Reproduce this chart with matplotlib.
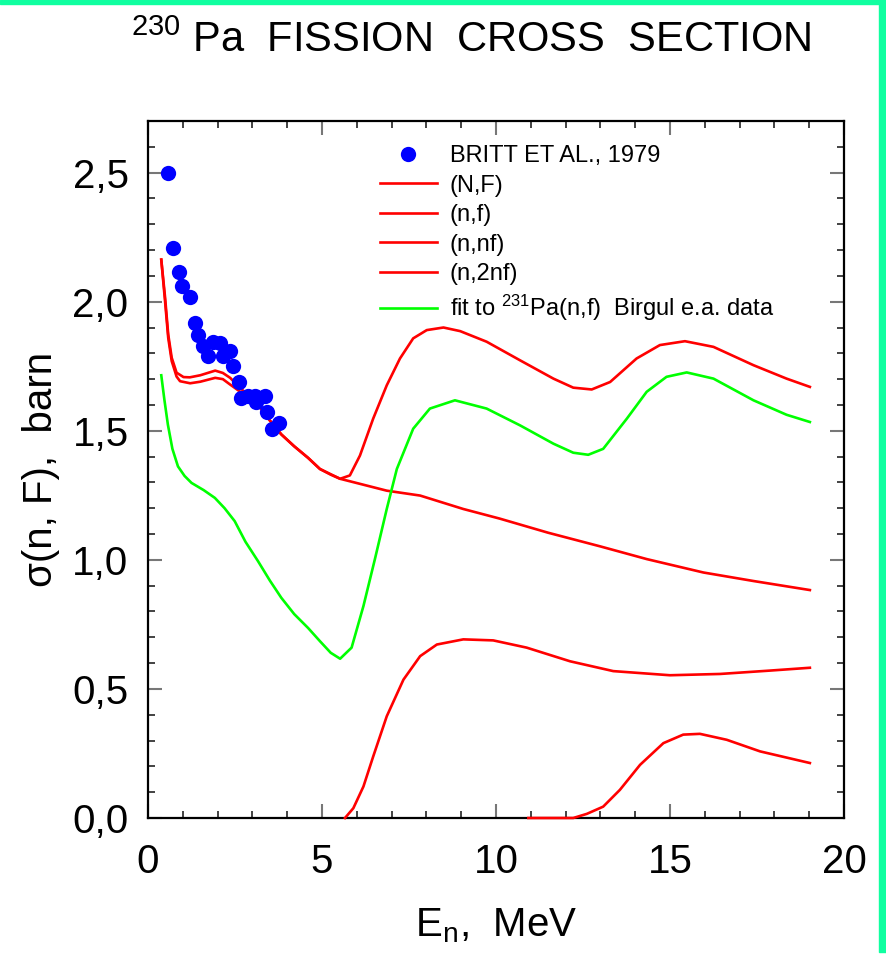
# %% Libraries
import numpy as np
import matplotlib
matplotlib.use('Agg')
import matplotlib.pyplot as plt
from matplotlib.ticker import MultipleLocator, FuncFormatter
from matplotlib.patches import Rectangle

plt.rcParams['font.family'] = ['Liberation Sans', 'DejaVu Sans']
plt.rcParams['mathtext.fontset'] = 'custom'
plt.rcParams['mathtext.rm'] = 'Liberation Sans'
plt.rcParams['mathtext.it'] = 'Liberation Sans'

# %% Data
# Britt et al., 1979 experimental points
e_britt = [0.58, 0.72, 0.89, 0.99, 1.20, 1.34, 1.44, 1.58, 1.72, 1.87, 2.06,
           2.16, 2.35, 2.44, 2.61, 2.68, 2.87, 3.07, 3.11, 3.35, 3.42, 3.57, 3.76]
s_britt = [2.50, 2.209, 2.115, 2.060, 2.018, 1.919, 1.870, 1.828, 1.789, 1.844,
           1.841, 1.789, 1.810, 1.750, 1.690, 1.628, 1.634, 1.634, 1.612, 1.634,
           1.572, 1.508, 1.531]

# (N,F) total
e_tot = [0.38, 0.49, 0.58, 0.68, 0.82, 1.02, 1.2, 1.5, 1.93, 2.15, 2.36, 2.64,
         3.16, 3.5, 3.83, 4.2, 4.6, 4.94, 5.25, 5.52, 5.80, 6.09, 6.47, 6.86,
         7.24, 7.62, 8.01, 8.49, 8.97, 9.73, 10.69, 11.65, 12.22, 12.75, 13.28,
         14.04, 14.71, 15.43, 16.25, 17.40, 18.35, 19.02]
s_tot = [2.163, 2.016, 1.873, 1.783, 1.725, 1.708, 1.707, 1.715, 1.733, 1.724,
         1.705, 1.667, 1.602, 1.54, 1.486, 1.44, 1.395, 1.352, 1.330, 1.314,
         1.327, 1.404, 1.547, 1.676, 1.780, 1.858, 1.890, 1.900, 1.886, 1.845,
         1.773, 1.702, 1.667, 1.660, 1.689, 1.780, 1.832, 1.847, 1.825, 1.754,
         1.702, 1.670]

# (n,f) first chance
e_nf = [0.38, 0.49, 0.58, 0.68, 0.82, 0.92, 1.21, 1.5, 1.93, 2.15, 2.36, 2.64,
        3.16, 3.5, 3.83, 4.2, 4.6, 4.94, 5.52, 6.86, 7.82, 9.06, 10.1, 11.5,
        13.0, 14.33, 15.96, 17.40, 19.02]
s_nf = [2.163, 2.0, 1.86, 1.77, 1.71, 1.692, 1.684, 1.69, 1.705, 1.70, 1.679,
        1.652, 1.600, 1.54, 1.486, 1.44, 1.395, 1.352, 1.314, 1.268, 1.249,
        1.197, 1.160, 1.105, 1.052, 1.003, 0.951, 0.918, 0.883]

# (n,nf) second chance
e_nnf = [5.66, 5.90, 6.19, 6.47, 6.86, 7.34, 7.82, 8.30, 9.06, 9.92, 10.88,
         12.13, 13.37, 15.0, 16.44, 17.87, 19.02]
s_nnf = [0.0, 0.038, 0.122, 0.238, 0.394, 0.536, 0.627, 0.672, 0.692, 0.688,
         0.660, 0.607, 0.569, 0.553, 0.558, 0.571, 0.582]

# (n,2nf) third chance
e_n2nf = [10.93, 12.22, 12.61, 13.08, 13.56, 14.14, 14.81, 15.38, 15.86, 16.63,
          17.59, 19.02]
s_n2nf = [0.0, 0.0, 0.016, 0.044, 0.109, 0.206, 0.290, 0.323, 0.326, 0.303,
          0.258, 0.213]

# fit to 231Pa(n,f) Birgul data
e_fit = [0.38, 0.47, 0.57, 0.7, 0.86, 1.05, 1.25, 1.6, 1.92, 2.2, 2.49, 2.8,
         3.16, 3.5, 3.83, 4.2, 4.6, 4.94, 5.25, 5.52, 5.85, 6.19, 6.52, 6.86,
         7.15, 7.62, 8.10, 8.82, 9.73, 10.69, 11.65, 12.22, 12.65, 13.08, 13.76,
         14.33, 14.90, 15.48, 16.25, 17.40, 18.35, 19.02]
s_fit = [1.715, 1.62, 1.524, 1.43, 1.362, 1.325, 1.298, 1.27, 1.24, 1.20, 1.150,
         1.07, 0.995, 0.92, 0.853, 0.79, 0.736, 0.685, 0.640, 0.617, 0.660,
         0.821, 1.003, 1.197, 1.352, 1.508, 1.586, 1.618, 1.586, 1.521, 1.450,
         1.415, 1.407, 1.430, 1.547, 1.651, 1.709, 1.726, 1.702, 1.618, 1.562,
         1.534]

# %% Figure
fig = plt.figure(figsize=(8.87, 9.61), dpi=100)
ax = fig.add_axes([0.1669, 0.1488, 0.7846, 0.7253])

red = '#ff0000'
lw = 1.9
ax.plot(e_britt, s_britt, 'o', color='#0000ff', ms=11, mec='none',
        label='BRITT ET AL., 1979', zorder=4)
ax.plot(e_tot, s_tot, color=red, lw=lw, label='(N,F)', zorder=3)
ax.plot(e_nf, s_nf, color=red, lw=lw, label='(n,f)', zorder=3)
ax.plot(e_nnf, s_nnf, color=red, lw=lw, label='(n,nf)', zorder=3,
        clip_on=False)
ax.plot(e_n2nf, s_n2nf, color=red, lw=lw, label='(n,2nf)', zorder=3,
        clip_on=False)
ax.plot(e_fit, s_fit, color='#00ff00', lw=lw,
        label='fit to $^{231}$Pa(n,f)  Birgul e.a. data', zorder=3)

ax.set_xlim(0, 20)
ax.set_ylim(0, 2.7)
ax.xaxis.set_major_locator(MultipleLocator(5))
ax.xaxis.set_minor_locator(MultipleLocator(1))
ax.yaxis.set_major_locator(MultipleLocator(0.5))
ax.yaxis.set_minor_locator(MultipleLocator(0.1))
ax.yaxis.set_major_formatter(FuncFormatter(lambda v, p: f'{v:.1f}'.replace('.', ',')))
ax.tick_params(which='both', direction='in', top=True, right=True)
ax.tick_params(which='major', length=10, width=1.5, color='#777777',
               labelsize=29, pad=14)
ax.tick_params(which='minor', length=5, width=1.2, color='#222222')
ax.tick_params(axis='x', which='major', pad=18)
for sp in ax.spines.values():
    sp.set_linewidth(1.6)

ax.set_xlabel('E$_\\mathrm{n}$,  MeV', fontsize=29, labelpad=18)
ax.set_ylabel('σ(n, F),  barn', fontsize=29, labelpad=9)

ax.legend(loc='upper left', bbox_to_anchor=(380 / 887, 1 - 145 / 961),
          bbox_transform=fig.transFigure, frameon=False, fontsize=17,
          handlelength=2.4, handletextpad=0.55, labelspacing=0.32,
          borderpad=0, borderaxespad=0)

fig.text(0.531, 0.958, '$^{230}$ Pa  FISSION  CROSS  SECTION', fontsize=30,
         ha='center', va='center')

# green frame strips
fig.patches.append(Rectangle((0, 1 - 4 / 961), 1, 4 / 961, color='#10ffa0',
                             transform=fig.transFigure, figure=fig))
fig.patches.append(Rectangle((879 / 887, 9 / 961), 8 / 887, 952 / 961,
                             color='#10ffa0', transform=fig.transFigure,
                             figure=fig))

fig.savefig('out.png', dpi=100)
